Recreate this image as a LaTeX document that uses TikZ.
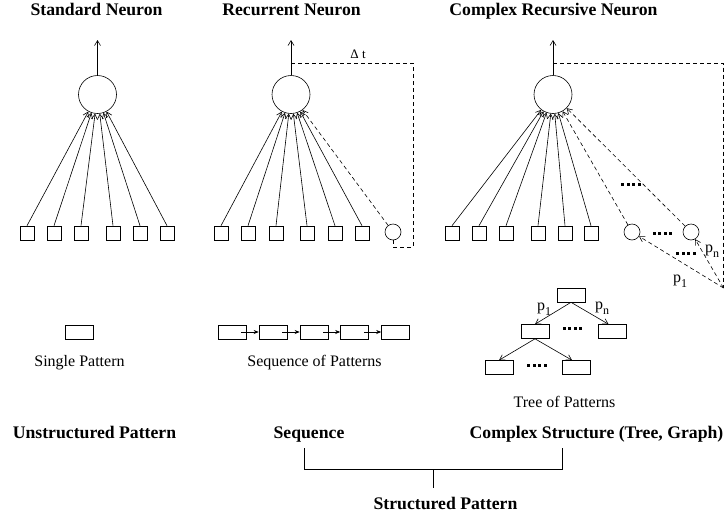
\documentclass[tikz,border=0pt]{standalone}
\usepackage{fontspec}
\setmainfont{Liberation Serif}
\usetikzlibrary{arrows.meta}
\newcommand{\qdots}{\rule{3pt}{3pt}\hspace{2.6pt}\rule{3pt}{3pt}\hspace{2.6pt}\rule{3pt}{3pt}\hspace{2.6pt}\rule{3pt}{3pt}}
\newcommand{\psub}[1]{p\raisebox{-4.5pt}{\fontsize{12}{13}\selectfont #1}}
\begin{document}
\begin{tikzpicture}[x=1pt,y=-1pt,
  line width=0.6pt,
  title/.style={font=\fontsize{17.7}{20}\selectfont\bfseries, inner sep=0, anchor=base},
  lbl/.style={font=\fontsize{16}{18}\selectfont, inner sep=0, anchor=base},
  plbl/.style={font=\fontsize{16}{18}\selectfont, inner sep=0},
  sq/.style={draw, minimum size=14pt, inner sep=0},
  pat/.style={draw, minimum width=28pt, minimum height=14pt, inner sep=0},
  neuron/.style={draw, circle, minimum size=38pt, inner sep=0},
  ctx/.style={draw, circle, minimum size=16pt, inner sep=0},
  arr/.style={-{Straight Barb[length=5pt,width=6pt]}},
  sarr/.style={-{Stealth[length=5pt,width=4pt]}},
  dsh/.style={dash pattern=on 4pt off 3pt},
  dts/.style={inner sep=0},
]
\useasboundingbox (0,0) rectangle (725,517);

% titles
\node[title] (t1) at (96.5,15) {Standard Neuron};
\node[title] (t2) at (291.5,15) {Recurrent Neuron};
\node[title] (t3) at (553.5,15) {Complex Recursive Neuron};

% ---------- panel 1 ----------
\node[neuron] (n1) at (97.5,94.5) {};
\coordinate (o1) at (97.5,40);
\draw[arr] (n1.north) -- (o1);
\foreach \i/\x in {1/27,2/54,3/81,4/113,5/140,6/167} {
  \node[sq] (a\i) at (\x,233) {};
  \draw[arr] (a\i.north) -- (n1);
}

% ---------- panel 2 ----------
\node[neuron] (n2) at (291,94.5) {};
\coordinate (o2) at (291,40);
\draw[arr] (n2.north) -- (o2);
\foreach \i/\x in {1/221,2/248,3/276,4/307,5/335,6/362} {
  \node[sq] (b\i) at (\x,233) {};
  \draw[arr] (b\i.north) -- (n2);
}
\node[ctx] (c2) at (393,232) {};
\draw[arr,dsh] (c2) -- (n2);
\coordinate (f2a) at (393,247);
\coordinate (f2b) at (413,247);
\coordinate (f2c) at (413,63);
\coordinate (f2d) at (291,63);
\draw[dsh] (c2.south) -- (f2a) -- (f2b) -- (f2c) -- (f2d);
\node[font=\fontsize{13}{15}\selectfont, inner sep=0, anchor=base] (dt) at (358,58) {Δ t};

% ---------- panel 3 ----------
\node[neuron] (n3) at (553,94.5) {};
\coordinate (o3) at (553,40);
\draw[arr] (n3.north) -- (o3);
\foreach \i/\x in {1/452,2/479,3/506,4/538,5/565,6/591} {
  \node[sq] (s\i) at (\x,233) {};
  \draw[arr] (s\i.north) -- (n3);
}
\node[ctx] (c3a) at (632,232) {};
\node[ctx] (c3b) at (691,232) {};
\draw[arr,dsh] (c3a) -- (n3);
\draw[arr,dsh] (c3b) -- (n3);
\coordinate (f3a) at (553,63);
\coordinate (f3b) at (723.5,63);
\coordinate (cv) at (723.5,288);
\draw[dsh] (f3a) -- (f3b) -- (cv);
\draw[arr,dsh] (cv) -- (c3a);
\draw[arr,dsh] (cv) -- (c3b);
\node[dts] (d3a) at (662.5,233) {\qdots};
\node[dts] (d3b) at (686,253) {\qdots};
\node[dts] (d3c) at (631,184) {\qdots};
\node[plbl] (pn3) at (712,251) {\psub{n}};
\node[plbl] (p13) at (680,281) {\psub{1}};

% ---------- patterns ----------
\node[pat] (sp) at (79,332) {};
\node[lbl] (spl) at (79.5,366) {Single Pattern};

\foreach \i/\x in {1/232,2/273,3/314,4/354.5,5/395.5} {
  \node[pat] (q\i) at (\x,332) {};
}
\foreach \i/\j in {1/2,2/3,3/4,4/5} {
  \draw[sarr] ([xshift=-5pt]q\i.east) -- (q\j.west);
}
\node[lbl] (sql) at (314.5,366) {Sequence of Patterns};

% tree
\node[pat] (tr) at (571,295) {};
\node[pat] (tl) at (535,331.5) {};
\node[pat] (trr) at (612.5,331.5) {};
\node[pat] (tll) at (499,367.5) {};
\node[pat] (tlr) at (576,367.5) {};
\draw[arr] (tr.south) -- (tl.north);
\draw[arr] (tr.south) -- ([xshift=-4pt]trr.north);
\draw[arr] (tl.south) -- (tll.north);
\draw[arr] (tl.south) -- ([xshift=-4pt]tlr.north);
\node[dts] (td1) at (572.5,328) {\qdots};
\node[dts] (td2) at (537,365) {\qdots};
\node[plbl] (tp1) at (544,309) {\psub{1}};
\node[plbl] (tpn) at (602,308) {\psub{n}};
\node[lbl] (trl) at (564.5,407) {Tree of Patterns};

% ---------- bottom ----------
\node[title] (u) at (94.5,438) {Unstructured Pattern};
\node[title] (sq) at (309,438) {Sequence};
\node[title] (cs) at (596.5,438) {Complex Structure (Tree, Graph)};
\node[title] (st) at (445.5,509) {Structured Pattern};
\coordinate (k1) at (304,448);
\coordinate (k2) at (304,469);
\coordinate (k3) at (562,469);
\coordinate (k4) at (562,448);
\coordinate (k5) at (433,469);
\coordinate (k6) at (433,488);
\draw (k1) -- (k2) -- (k3) -- (k4);
\draw (k5) -- (k6);
\end{tikzpicture}
\end{document}
